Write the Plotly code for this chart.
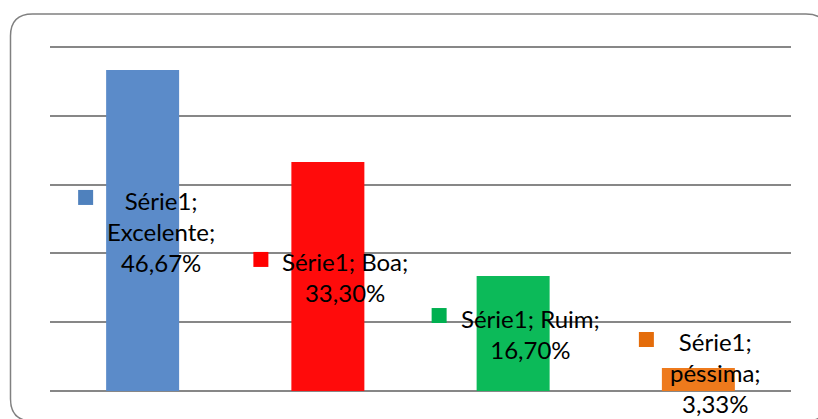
import plotly.graph_objects as go

# ---- data ----
categories = ["Excelente", "Boa", "Ruim", "péssima"]
values = [46.67, 33.30, 16.70, 3.33]
series_name = "Série1"
label_breaks = [["Série1;", "Excelente;", "46,67%"],
                None, None,
                ["Série1;", "péssima;", "3,33%"]]
y_ticks = [0, 10, 20, 30, 40, 50]

# ---- style ----
bar_colors = ["#5B8BC9", "#FF0B0B", "#0CBA59", "#EE7A1C"]
key_colors = ["#4F81BD", "#FF0000", "#00B050", "#E46C0A"]
text_shift = [(18, -1), (17, -1), (17, 0), (17, 7)]     # px offsets of label text
key_shift = [(-57, 33), (-67, 17), (-74, 18), (-52, 40)]  # px offsets of legend keys
FONT = "Lato"
W, H = 818, 419
ML, MR, MT, MB = 50, 27, 46, 27
PADV = 0.15

def fmt(v):
    return f"{v:.2f}".replace(".", ",") + "%"

fig = go.Figure()
fig.add_trace(go.Bar(x=categories, y=values, marker=dict(color=bar_colors, line=dict(width=0)),
                     width=0.394, hoverinfo="skip", showlegend=False))

annotations = []
shapes = []
for i, (c, v) in enumerate(zip(categories, values)):
    if label_breaks[i]:
        txt = "<br>".join(label_breaks[i])
    else:
        txt = f"{series_name}; {c};<br>{fmt(v)}"
    dx, dy = text_shift[i]
    annotations.append(dict(x=c, y=v / 2, xref="x", yref="y", text=txt, showarrow=False,
                            xshift=dx, yshift=dy, align="center",
                            font=dict(family=FONT, size=24, color="#000000")))
    kx, ky = key_shift[i]
    shapes.append(dict(type="rect", xref="x", yref="y", xsizemode="pixel", ysizemode="pixel",
                       xanchor=c, yanchor=v / 2, x0=kx - 7.5, x1=kx + 7.5, y0=ky - 7.5, y1=ky + 7.5,
                       fillcolor=key_colors[i], line=dict(width=0), layer="above"))

# rounded outer border (pixel box converted to paper fractions)
pw, ph = W - ML - MR, H - MT - MB
def fx(px):
    return (px - ML) / pw
def fy(py):
    return (H - MB - py) / ph
x0, x1, y0, y1, r = 10.5, 828, 14, 421, 22
pts = [("M", x0 + r, y0), ("L", x1 - r, y0), ("Q", x1, y0, x1, y0 + r), ("L", x1, y1 - r),
       ("Q", x1, y1, x1 - r, y1), ("L", x0 + r, y1), ("Q", x0, y1, x0, y1 - r),
       ("L", x0, y0 + r), ("Q", x0, y0, x0 + r, y0)]
path = ""
for p in pts:
    cmd = p[0]
    coords = p[1:]
    seg = []
    for j in range(0, len(coords), 2):
        seg.append(f"{fx(coords[j]):.5f},{fy(coords[j + 1]):.5f}")
    path += cmd + " ".join(seg) + " "
path += "Z"
shapes.append(dict(type="path", xref="paper", yref="paper", path=path,
                   line=dict(color="#808080", width=1.5), layer="below"))

fig.update_layout(
    width=W, height=H,
    margin=dict(l=ML, r=MR, t=MT, b=MB, pad=0),
    paper_bgcolor="white", plot_bgcolor="white",
    bargap=0.606,
    xaxis=dict(showticklabels=False, showgrid=False, zeroline=False, showline=False, ticks=""),
    yaxis=dict(range=[min(y_ticks) - PADV, max(y_ticks) + PADV], tickvals=y_ticks,
               showticklabels=False, showgrid=True,
               gridcolor="#878787", gridwidth=2, zeroline=False, showline=False, ticks=""),
    annotations=annotations,
    shapes=shapes,
)

fig.write_html("out.html")
